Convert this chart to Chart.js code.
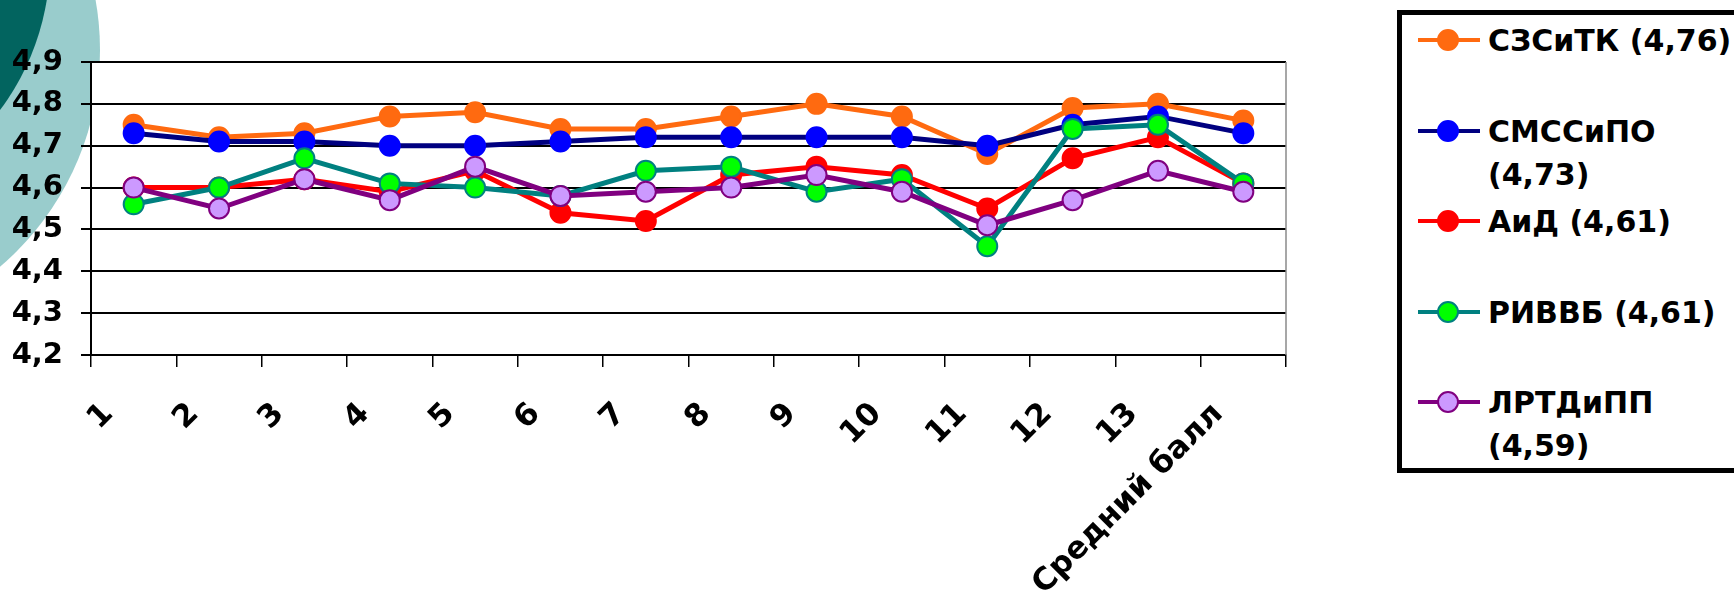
<!DOCTYPE html>
<html>
<head>
<meta charset="utf-8">
<script src="https://cdn.jsdelivr.net/npm/chart.js@4.4.0/dist/chart.umd.min.js"></script>
<style>
  body { margin: 0; width: 1734px; height: 596px; overflow: hidden; background: #fff; font-family: 'DejaVu Sans', sans-serif; }
  .blob { position: absolute; border-radius: 50%; }
  #chartWrap { position: absolute; left: 0; top: 0; width: 1734px; height: 596px; }
  #legend { position: absolute; left: 1397px; top: 10px; width: 420px; height: 453px; border: 5px solid #000; background: #fff; }
  .legend-item { position: absolute; left: 0; }
  .legend-line { position: absolute; height: 4px; width: 62px; left: 16px; }
  .legend-dot { position: absolute; width: 18px; height: 18px; border-radius: 50%; left: 35px; border: 2px solid; }
  .legend-text { position: absolute; left: 86px; width: 255px; font-weight: bold; font-size: 30px; line-height: 43px; color: #000; }
</style>
</head>
<body>
<div class="blob" style="left:-470px; top:-235px; width:570px; height:570px; background:#99cccc;"></div>
<div class="blob" style="left:-450px; top:-290px; width:500px; height:500px; background:#02645f;"></div>
<div id="chartWrap"><canvas id="scoreChart"></canvas></div>
<div id="legend"></div>
<script>
const categories = ['1', '2', '3', '4', '5', '6', '7', '8', '9', '10', '11', '12', '13', 'Средний балл'];
const seriesNames = ['СЗСиТК (4,76)', 'СМССиПО (4,73)', 'АиД (4,61)', 'РИВВБ (4,61)', 'ЛРТДиПП (4,59)'];

const szsitk = [4.75, 4.72, 4.73, 4.77, 4.78, 4.74, 4.74, 4.77, 4.80, 4.77, 4.68, 4.79, 4.80, 4.76];
const smssipo = [4.73, 4.71, 4.71, 4.70, 4.70, 4.71, 4.72, 4.72, 4.72, 4.72, 4.70, 4.75, 4.77, 4.73];
const aid = [4.60, 4.60, 4.62, 4.59, 4.64, 4.54, 4.52, 4.63, 4.65, 4.63, 4.55, 4.67, 4.72, 4.61];
const rivvb = [4.56, 4.60, 4.67, 4.61, 4.60, 4.58, 4.64, 4.65, 4.59, 4.62, 4.46, 4.74, 4.75, 4.61];
const lrtdipp = [4.60, 4.55, 4.62, 4.57, 4.65, 4.58, 4.59, 4.60, 4.63, 4.59, 4.51, 4.57, 4.64, 4.59];

const yMin = 4.2;
const yMax = 4.9;
const yStep = 0.1;

const lineColors = ['#ff6a10', '#000080', '#ff0000', '#008080', '#800080'];
const dotColors = ['#ff6a10', '#0000ff', '#ff0000', '#00ff00', '#cc99ff'];
const dotBorders = ['#ff6a10', '#0000ff', '#ff0000', '#008080', '#800080'];
const seriesValues = [szsitk, smssipo, aid, rivvb, lrtdipp];

// white plot background and the thin grey right edge of the plot
const plotFrame = {
  id: 'plotFrame',
  beforeDraw(chart) {
    const { ctx, chartArea } = chart;
    ctx.save();
    ctx.fillStyle = '#fff';
    ctx.fillRect(chartArea.left, chartArea.top, chartArea.right - chartArea.left, chartArea.bottom - chartArea.top);
    ctx.restore();
  },
  beforeDatasetsDraw(chart) {
    const { ctx, chartArea } = chart;
    ctx.save();
    ctx.strokeStyle = '#8a8a8a';
    ctx.lineWidth = 1.5;
    ctx.beginPath();
    ctx.moveTo(chartArea.right, chartArea.top);
    ctx.lineTo(chartArea.right, chartArea.bottom);
    ctx.stroke();
    ctx.restore();
  }
};

function buildLegend() {
  const box = document.getElementById('legend');
  seriesNames.forEach((name, i) => {
    const center = 25 + i * 90.5;
    const item = document.createElement('div');
    item.className = 'legend-item';
    item.innerHTML = `
      <div class="legend-line" style="top:${center - 2}px; background:${lineColors[i]};"></div>
      <div class="legend-dot" style="top:${center - 11}px; background:${dotColors[i]}; border-color:${dotBorders[i]};"></div>
      <div class="legend-text" style="top:${center - 21}px;">${name}</div>
    `;
    box.appendChild(item);
  });
}

function init() {
  const ctx = document.getElementById('scoreChart').getContext('2d');

  new Chart(ctx, {
    type: 'line',
    data: {
      labels: categories,
      datasets: seriesValues.map((values, i) => ({
        label: seriesNames[i],
        data: values,
        borderColor: lineColors[i],
        backgroundColor: dotColors[i],
        borderWidth: 5,
        pointRadius: 10,
        pointBorderWidth: 2,
        pointBackgroundColor: dotColors[i],
        pointBorderColor: dotBorders[i],
        tension: 0,
        fill: false,
        order: seriesValues.length - i
      }))
    },
    options: {
      responsive: true,
      maintainAspectRatio: false,
      animation: false,
      layout: {
        padding: { top: 62, right: 448, left: 0, bottom: 0 }
      },
      plugins: {
        legend: { display: false },
        tooltip: { enabled: false }
      },
      scales: {
        x: {
          offset: true,
          grid: {
            offset: true,
            drawOnChartArea: false,
            drawTicks: true,
            tickLength: 12,
            color: '#000',
            lineWidth: 1.5
          },
          border: { color: '#000', width: 2 },
          ticks: {
            color: '#000',
            font: { family: 'DejaVu Sans', size: 31, weight: 'bold' },
            minRotation: 45,
            maxRotation: 45,
            padding: 29,
            labelOffset: -25,
            autoSkip: false
          },
          afterFit(scale) {
            scale.height = 241;
          }
        },
        y: {
          min: yMin,
          max: yMax,
          grid: {
            color: '#000',
            lineWidth: 2,
            tickLength: 10
          },
          border: { color: '#000', width: 2 },
          ticks: {
            stepSize: yStep,
            color: '#000',
            padding: 18,
            font: { family: 'DejaVu Sans', size: 29, weight: 'bold' },
            callback: (value) => value.toFixed(1).replace('.', ',')
          },
          afterFit(scale) {
            scale.width = 91;
          }
        }
      }
    },
    plugins: [plotFrame]
  });

  buildLegend();
}

init();
</script>
</body>
</html>
